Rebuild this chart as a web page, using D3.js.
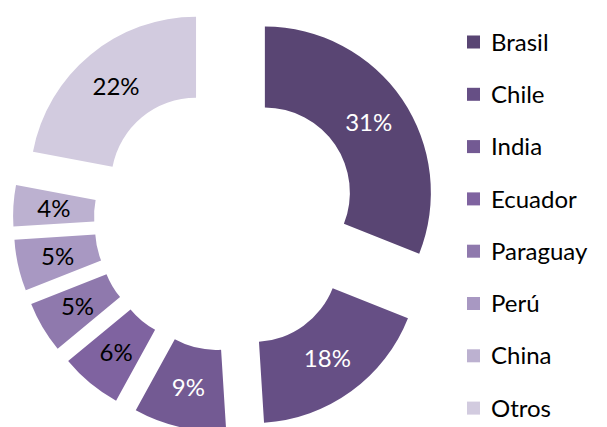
<!DOCTYPE html>
<html>
<head>
<meta charset="utf-8">
<script src="https://cdn.jsdelivr.net/npm/d3@7"></script>
<style>
  body { margin: 0; background: #fff; }
  text { font-family: Lato, "Open Sans", sans-serif; }
</style>
</head>
<body>
<div id="chart"></div>
<script>
// Data
const countries = ["Brasil", "Chile", "India", "Ecuador", "Paraguay", "Perú", "China", "Otros"];
const shares = [31, 18, 9, 6, 5, 5, 4, 22];
const colors = ["#594573", "#664f85", "#735a93", "#7f63a0", "#8f79ad", "#a898c2", "#bcb1d0", "#d2cbdf"];
const labelColors = ["#fff", "#fff", "#fff", "#000", "#000", "#000", "#000", "#000"];

const width = 607, height = 427;
const cx = 226, cy = 219;
const outerR = 166, innerR = 85, explode = 47;

const svg = d3.select("#chart")
              .append("svg")
              .attr("width", width)
              .attr("height", height);

const pie = d3.pie().sort(null).value(d => d);
const arcs = pie(shares);

const arc = d3.arc()
              .innerRadius(innerR)
              .outerRadius(outerR);

const g = svg.append("g")
             .attr("transform", `translate(${cx},${cy})`);

// Exploded slices
const slice = g.selectAll(".slice")
               .data(arcs)
               .enter()
               .append("g")
               .attr("class", "slice")
               .attr("transform", d => {
                   const a = (d.startAngle + d.endAngle) / 2;
                   return `translate(${explode * Math.sin(a)},${-explode * Math.cos(a)})`;
               });

slice.append("path")
     .attr("d", arc)
     .attr("fill", (d, i) => colors[i]);

slice.append("text")
     .attr("transform", d => `translate(${arc.centroid(d)})`)
     .attr("text-anchor", "middle")
     .attr("dy", "0.36em")
     .attr("font-size", 24)
     .attr("fill", (d, i) => labelColors[i])
     .text(d => d.data + "%");

// Legend
const legend = svg.selectAll(".legend")
                  .data(countries)
                  .enter()
                  .append("g")
                  .attr("class", "legend")
                  .attr("transform", (d, i) => `translate(467, ${42 + i * 52.3})`);

legend.append("rect")
      .attr("x", 0)
      .attr("y", -6.5)
      .attr("width", 13)
      .attr("height", 13)
      .attr("fill", (d, i) => colors[i]);

legend.append("text")
      .attr("x", 24)
      .attr("dy", "0.36em")
      .attr("font-size", 24)
      .attr("fill", "#000")
      .text(d => d);
</script>
</body>
</html>
